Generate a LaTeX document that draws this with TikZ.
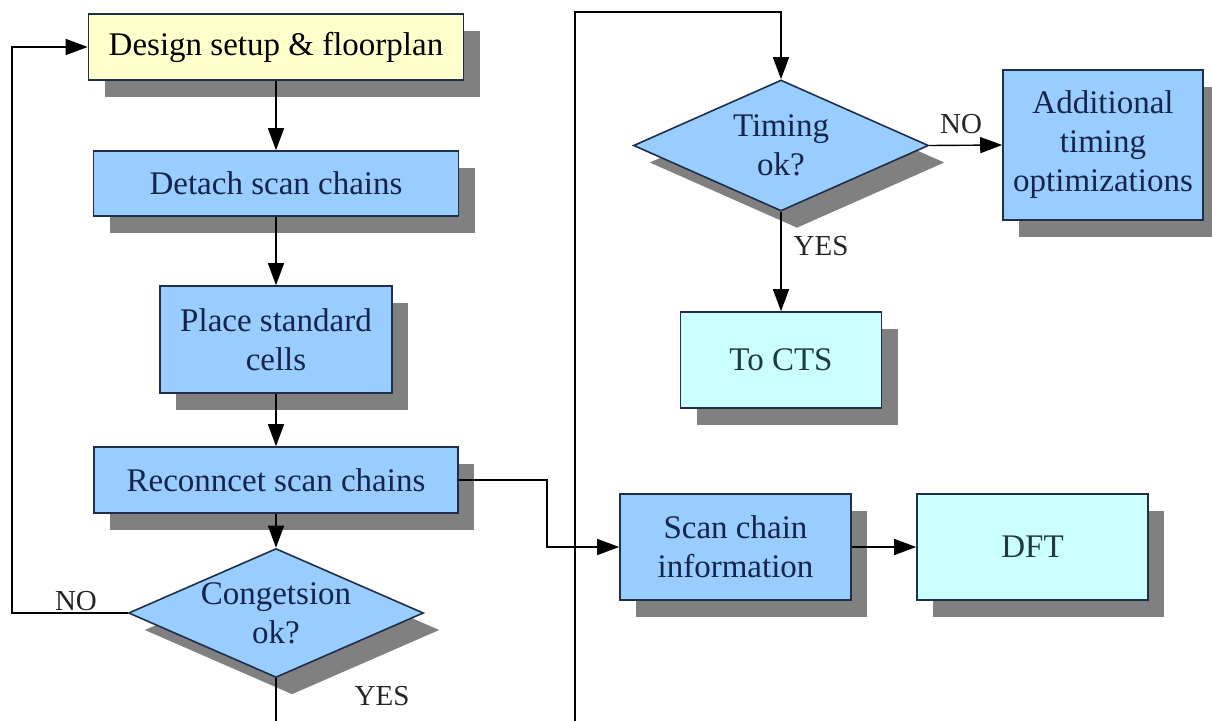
\documentclass[tikz,border=0pt]{standalone}
\usepackage{fontspec}
\setmainfont{Liberation Serif}
\usetikzlibrary{shapes.geometric,shadows,arrows.meta}

\definecolor{boxblue}{HTML}{99CCFF}
\definecolor{boxyellow}{HTML}{FFFFCC}
\definecolor{boxcyan}{HTML}{CCFFFF}
\definecolor{shade}{HTML}{808080}
\definecolor{edge}{HTML}{1F2F4A}
\definecolor{ink}{HTML}{14244A}
\definecolor{tealink}{HTML}{1E3A3E}

\tikzset{
  base/.style={draw=edge, line width=1.6pt, inner sep=0pt, align=center,
    font=\fontsize{33}{39}\selectfont,
    general shadow={fill=shade, shadow xshift=16pt, shadow yshift=-17pt}},
  procbox/.style={base, rectangle, fill=boxblue, text=ink},
  startbox/.style={base, rectangle, fill=boxyellow, text=black},
  endbox/.style={base, rectangle, fill=boxcyan, text=tealink},
  decision/.style={base, diamond, fill=boxblue},
  dtext/.style={font=\fontsize{33}{39}\selectfont, text=ink, align=center, inner sep=0pt},
  flow/.style={draw=black, line width=1.4pt},
  arr/.style={flow, -{Triangle[length=22pt,width=16pt]}},
  lab/.style={font=\fontsize{29}{34}\selectfont, text=black!85, inner sep=0pt}
}

\begin{document}
\begin{tikzpicture}[x=1pt,y=-1pt]
\useasboundingbox (0,0) rectangle (1212,720);
\clip (0,0) rectangle (1212,720);
\fill[white] (0,0) rectangle (1212,720);

% left column: placement flow
\node[startbox, minimum width=375pt, minimum height=66pt] (design) at (276,47) {Design setup \& floorplan};
\node[procbox, minimum width=365pt, minimum height=65pt] (detach) at (276,183.5) {Detach scan chains};
\node[procbox, minimum width=232pt, minimum height=107pt] (place) at (276,339.5) {Place standard\\cells};
\node[procbox, minimum width=364pt, minimum height=66pt] (recon) at (276,480) {Reconncet scan chains};
\node[decision, minimum width=295pt, minimum height=129pt] (cong) at (276,613) {};
\node[dtext] (congtxt) at (cong.center) {Congetsion\\ok?};

% right side: timing check and scan information
\node[decision, minimum width=295pt, minimum height=131pt] (timing) at (781,145.5) {};
\node[dtext] (timtxt) at (timing.center) {Timing\\ok?};
\node[procbox, minimum width=200pt, minimum height=150pt] (addopt) at (1103,145) {Additional\\timing\\optimizations};
\node[endbox, minimum width=201pt, minimum height=96pt] (cts) at (781,360) {To CTS};
\node[procbox, minimum width=231pt, minimum height=106pt] (scan) at (735.5,547) {Scan chain\\information};
\node[endbox, minimum width=231pt, minimum height=106pt] (dft) at (1032.5,547) {DFT};

% helper points for routed connectors
\coordinate (noturn) at (12,613);
\coordinate (scanturn) at (547,480);
\coordinate (loopbase) at (276,760);
\coordinate (looptop) at (575,12);

% connectors
\draw[arr] (design) -- (detach);
\draw[arr] (detach) -- (place);
\draw[arr] (place) -- (recon);
\draw[arr] (recon) -- (cong);
\draw[arr] (cong.west) -- (noturn) |- (design.west);
\draw[arr] (recon.east) -- (scanturn) |- (scan.west);
\draw[arr] (scan) -- (dft);
\draw[arr] (cong.south) -- (loopbase) -| (looptop) -| (timing.north);
\draw[arr] (timing.east) -- (addopt.west);
\draw[arr] (timing.south) -- (cts.north);

% branch labels
\node[lab] (lno1) at (76,601) {NO};
\node[lab] (lyes1) at (382,696) {YES};
\node[lab] (lno2) at (961,124) {NO};
\node[lab] (lyes2) at (821,246) {YES};
\end{tikzpicture}
\end{document}
